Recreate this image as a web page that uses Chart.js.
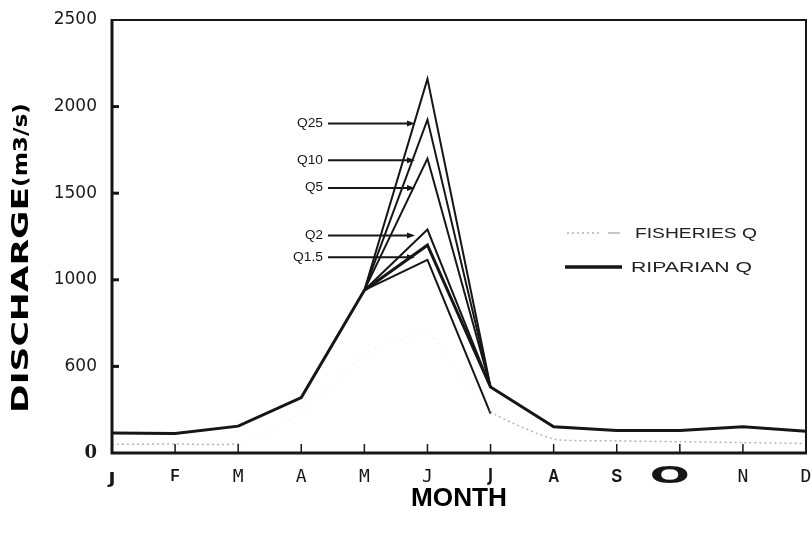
<!DOCTYPE html>
<html>
<head>
<meta charset="utf-8">
<script src="https://cdn.jsdelivr.net/npm/chart.js@4.4.0/dist/chart.umd.min.js"></script>
<style>
  html, body { margin: 0; padding: 0; background: #fff; overflow: hidden; }
  #chart { display: block; }
</style>
</head>
<body>
<canvas id="chart" width="812" height="533"></canvas>
<script>
// months along the bottom, as printed
var months = ['J', 'F', 'M', 'A', 'M', 'J', 'J', 'A', 'S', 'O', 'N', 'D'];
// y tick labels, bottom to top (the scan prints 600 at the 500 tick)
var yTickLabels = ['0', '600', '1000', '1500', '2000', '2500'];

// m3/s
var fisheriesQ = [50, 52, 55, 230, 570, 690, 240, 80, 70, 65, 60, 55];
var riparianQ = [115, 112, 155, 320, 940, 1200, 381, 152, 130, 130, 152, 125];
var q25 = [null, null, null, null, 940, 2160, 381, null, null, null, null, null];
var q10 = [null, null, null, null, 940, 1925, 381, null, null, null, null, null];
var q5 = [null, null, null, null, 940, 1700, 381, null, null, null, null, null];
var q2 = [null, null, null, null, 940, 1290, 381, null, null, null, null, null];
var qLow = [null, null, null, null, 940, 1115, 227, null, null, null, null, null];

var INK = '#161616';

function stretchText(ctx, text, x, y, font, width, align) {
    ctx.save();
    ctx.font = font;
    var w = ctx.measureText(text).width;
    var sx = width / w;
    var start = x;
    if (align === 'right') start = x - width;
    if (align === 'center') start = x - width / 2;
    ctx.translate(start, y);
    ctx.scale(sx, 1);
    ctx.textAlign = 'left';
    ctx.fillText(text, 0, 0);
    ctx.restore();
}

function arrow(ctx, x1, x2, y) {
    ctx.beginPath();
    ctx.moveTo(x1, y);
    ctx.lineTo(x2 - 4, y);
    ctx.stroke();
    ctx.beginPath();
    ctx.moveTo(x2, y);
    ctx.lineTo(x2 - 8, y - 3);
    ctx.lineTo(x2 - 8, y + 3);
    ctx.closePath();
    ctx.fill();
}

var decorPlugin = {
    id: 'decor',
    afterDraw: function (chart) {
        var ctx = chart.ctx;
        var a = chart.chartArea;
        var xs = chart.scales.x;
        var ys = chart.scales.y;
        ctx.save();
        ctx.strokeStyle = INK;
        ctx.fillStyle = INK;

        // frame
        ctx.lineWidth = 2;
        ctx.beginPath();
        ctx.moveTo(a.left, a.top);
        ctx.lineTo(a.right, a.top);
        ctx.lineTo(a.right, a.bottom);
        ctx.stroke();
        ctx.lineWidth = 3;
        ctx.beginPath();
        ctx.moveTo(a.left, a.top - 1);
        ctx.lineTo(a.left, a.bottom);
        ctx.lineTo(a.right + 1, a.bottom);
        ctx.stroke();

        // inward ticks
        ctx.lineWidth = 3;
        [500, 1000, 1500, 2000].forEach(function (v) {
            var py = ys.getPixelForValue(v);
            ctx.beginPath();
            ctx.moveTo(a.left, py);
            ctx.lineTo(a.left + 7, py);
            ctx.stroke();
        });
        ctx.lineWidth = 1.5;
        for (var i = 1; i < months.length - 1; i++) {
            var px = xs.getPixelForValue(i);
            ctx.beginPath();
            ctx.moveTo(px, a.bottom);
            ctx.lineTo(px, a.bottom - 9);
            ctx.stroke();
        }

        // month labels
        ctx.textBaseline = 'middle';
        var ly = a.bottom + 24;
        months.forEach(function (m, i) {
            var px = xs.getPixelForValue(i);
            var font = '18px "DejaVu Sans Mono"';
            var w = null;
            var dy = 0;
            if (i === 0) { font = 'bold 15px "DejaVu Sans"'; w = 7; dy = 3; }
            if (i === 1) { font = 'bold 16px "Liberation Sans"'; w = 9; }
            if (i === 6) { font = 'bold 17px "DejaVu Sans"'; w = 5; }
            if (i === 7 || i === 8) { font = 'bold 18px "Liberation Sans"'; w = 11; }
            if (i === 9) { font = 'bold 23px "DejaVu Sans"'; w = 40; px -= 10; }
            if (w) {
                stretchText(ctx, m, px, ly + dy, font, w, 'center');
            } else {
                ctx.font = font;
                ctx.textAlign = 'center';
                ctx.fillText(m, px, ly + dy);
            }
        });

        // axis titles
        ctx.fillStyle = '#000';
        stretchText(ctx, 'MONTH', (a.left + a.right) / 2, a.bottom + 46, 'bold 26px "Liberation Sans"', 96, 'center');
        ctx.save();
        ctx.translate(22, 413);
        ctx.rotate(-Math.PI / 2);
        stretchText(ctx, 'DISCHARGE', 0, 0, 'bold 23px "DejaVu Sans"', 226, 'left');
        stretchText(ctx, '(m3/s)', 226, 0, 'bold 19px "DejaVu Sans"', 84, 'left');
        ctx.restore();

        // return-period labels and arrows
        ctx.fillStyle = INK;
        ctx.lineWidth = 2;
        var tags = [['Q25', 1903, 26], ['Q10', 1690, 26], ['Q5', 1530, 18], ['Q2', 1256, 18], ['Q1.5', 1130, 30]];
        tags.forEach(function (t) {
            var py = ys.getPixelForValue(t[1]);
            stretchText(ctx, t[0], a.left + 211, py, '12px "Liberation Sans"', t[2], 'right');
            arrow(ctx, a.left + 216, a.left + 303, py);
        });

        // legend
        ctx.strokeStyle = '#b5b5b5';
        ctx.lineWidth = 1.5;
        ctx.setLineDash([2, 3]);
        ctx.beginPath();
        ctx.moveTo(567, 233);
        ctx.lineTo(599, 233);
        ctx.stroke();
        ctx.setLineDash([]);
        ctx.beginPath();
        ctx.moveTo(608, 233);
        ctx.lineTo(620, 233);
        ctx.stroke();
        ctx.strokeStyle = INK;
        ctx.lineWidth = 3.5;
        ctx.beginPath();
        ctx.moveTo(565, 267);
        ctx.lineTo(622, 267);
        ctx.stroke();
        ctx.fillStyle = '#222';
        stretchText(ctx, 'FISHERIES Q', 635, 234, '15px "Liberation Sans"', 122, 'left');
        stretchText(ctx, 'RIPARIAN Q', 631, 268, '15px "Liberation Sans"', 121, 'left');

        ctx.restore();
    }
};

function qLine(data) {
    return {
        data: data,
        borderColor: INK,
        borderWidth: 2,
        pointRadius: 0,
        tension: 0,
        spanGaps: false
    };
}

function fadedPart(c) {
    return c.p0DataIndex >= 2 && c.p0DataIndex < 6;
}

var datasets = [
    {
        label: 'FISHERIES Q',
        data: fisheriesQ,
        borderColor: '#b4b4b4',
        borderWidth: 1.5,
        borderDash: [2, 3],
        pointRadius: 0,
        tension: 0.15,
        segment: {
            // the scan has almost lost this line between March and July
            borderColor: function (c) { return fadedPart(c) ? 'rgba(200,200,200,0.35)' : '#b4b4b4'; },
            borderDash: function (c) { return fadedPart(c) ? [1, 6] : [2, 3]; }
        }
    },
    qLine(q25), qLine(q10), qLine(q5), qLine(q2), qLine(qLow),
    {
        label: 'RIPARIAN Q',
        data: riparianQ,
        borderColor: INK,
        borderWidth: 3,
        pointRadius: 0,
        tension: 0
    }
];

new Chart(document.getElementById('chart').getContext('2d'), {
    type: 'line',
    data: { labels: months, datasets: datasets },
    options: {
        responsive: false,
        animation: false,
        layout: { padding: { top: 20, right: 6, bottom: 72, left: 0 } },
        plugins: {
            legend: { display: false },
            tooltip: { enabled: false }
        },
        scales: {
            x: {
                type: 'category',
                offset: false,
                grid: { display: false },
                border: { display: false },
                ticks: { display: false }
            },
            y: {
                min: 0,
                max: 2500,
                afterFit: function (scale) { scale.width = 112; },
                grid: { display: false },
                border: { display: false },
                ticks: {
                    stepSize: 500,
                    padding: 7,
                    color: '#1a1a1a',
                    callback: function (value) {
                        return yTickLabels[Math.round(value / 500)];
                    },
                    font: function (c) {
                        if (c.tick && c.tick.value === 0) {
                            return { family: '"DejaVu Serif"', size: 18, weight: 'bold' };
                        }
                        return { family: '"DejaVu Sans"', size: 17 };
                    }
                }
            }
        }
    },
    plugins: [decorPlugin]
});
</script>
</body>
</html>
